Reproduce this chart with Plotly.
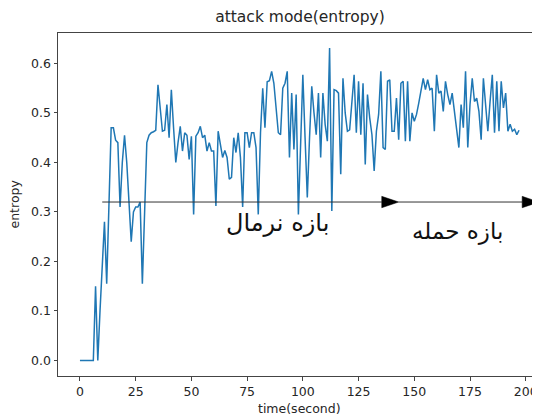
import plotly.graph_objects as go

# entropy per second
entropy = [
    0, 0, 0, 0, 0, 0, 0, 0.15, 0, 0.10,
    0.19, 0.28, 0.155, 0.32, 0.47, 0.47, 0.445, 0.44, 0.31, 0.40,
    0.455, 0.40, 0.33, 0.24, 0.30, 0.31, 0.31, 0.32, 0.155, 0.30,
    0.44, 0.455, 0.46, 0.462, 0.465, 0.557, 0.51, 0.463, 0.465, 0.517,
    0.45, 0.547, 0.47, 0.40, 0.44, 0.473, 0.423, 0.46, 0.455, 0.406,
    0.453, 0.295, 0.453, 0.46, 0.473, 0.45, 0.455, 0.423, 0.44, 0.423,
    0.423, 0.312, 0.463, 0.44, 0.41, 0.424, 0.41, 0.366, 0.37, 0.45,
    0.42, 0.46, 0.41, 0.31, 0.46, 0.46, 0.43, 0.46, 0.46, 0.43,
    0.295, 0.46, 0.55, 0.47, 0.563, 0.565, 0.584, 0.56, 0.507, 0.46,
    0.456, 0.55, 0.56, 0.584, 0.41, 0.54, 0.426, 0.537, 0.295, 0.44,
    0.577, 0.45, 0.329, 0.45, 0.554, 0.50, 0.456, 0.54, 0.41, 0.54,
    0.477, 0.443, 0.631, 0.302, 0.547, 0.545, 0.54, 0.376, 0.57, 0.50,
    0.463, 0.466, 0.53, 0.577, 0.46, 0.564, 0.456, 0.56, 0.396, 0.537,
    0.49, 0.456, 0.383, 0.463, 0.497, 0.584, 0.43, 0.426, 0.564, 0.567,
    0.463, 0.463, 0.53, 0.446, 0.56, 0.564, 0.443, 0.564, 0.443, 0.50,
    0.483, 0.497, 0.52, 0.55, 0.57, 0.547, 0.567, 0.547, 0.55, 0.463,
    0.577, 0.54, 0.544, 0.503, 0.564, 0.537, 0.517, 0.54, 0.503, 0.477,
    0.43, 0.517, 0.47, 0.584, 0.43, 0.517, 0.57, 0.523, 0.53, 0.503,
    0.446, 0.57, 0.517, 0.463, 0.523, 0.577, 0.46, 0.564, 0.463, 0.564,
    0.51, 0.54, 0.463, 0.477, 0.463, 0.467, 0.456, 0.465,
]
time_s = list(range(len(entropy)))

x_ticks = [0, 25, 50, 75, 100, 125, 150, 175, 200]
y_ticks = [0.0, 0.1, 0.2, 0.3, 0.4, 0.5, 0.6]

# annotation arrows: (start, tip) along the same level
arrow_level = 0.32
arrow_spans = [(10, 143), (143, 206)]
arrow_head_len = 7.6
arrow_head_half = 0.0115

labels = ["بازه نرمال", "بازه حمله"]
label_x = [88.6, 169.5]
label_y = [0.278, 0.26]
label_size = [24, 23]

# the page body adds an 8px offset, so the figure is 8px smaller than the window
W, H = 532, 408
ML, MT, MB, MR = 50, 25, 40, 0
PW, PH = W - ML - MR, H - MT - MB

TXT = "#262626"

fig = go.Figure()
fig.add_trace(go.Scatter(
    x=time_s, y=entropy, mode="lines",
    line=dict(color="#1f77b4", width=1.5),
    showlegend=False, hoverinfo="skip",
))

shapes = []
for (x0, x1) in arrow_spans:
    shapes.append(dict(type="line", xref="x", yref="y",
                       x0=x0, x1=x1 - arrow_head_len, y0=arrow_level, y1=arrow_level,
                       line=dict(color="#333333", width=1)))
    hb = x1 - arrow_head_len
    path = (f"M {hb},{arrow_level + arrow_head_half} L {x1},{arrow_level} "
            f"L {hb},{arrow_level - arrow_head_half} Z")
    shapes.append(dict(type="path", xref="x", yref="y", path=path,
                       fillcolor="black", line=dict(color="black", width=0.5)))

annotations = []
for t, xx, yy, sz in zip(labels, label_x, label_y, label_size):
    annotations.append(dict(text=t, x=xx, y=yy, xref="x", yref="y",
                            showarrow=False,
                            font=dict(family="DejaVu Sans", size=sz, color="#111111")))

# axis titles placed at fixed pixel positions
annotations.append(dict(text="entropy", x=(6 - ML) / PW, y=0.5,
                        xref="paper", yref="paper",
                        showarrow=False, textangle=-90, xanchor="center", yanchor="middle",
                        font=dict(family="DejaVu Sans", size=12.5, color=TXT)))
annotations.append(dict(text="time(second)", x=0.5, y=-(400 - (H - MB)) / PH,
                        xref="paper", yref="paper",
                        showarrow=False, xanchor="center", yanchor="middle",
                        font=dict(family="DejaVu Sans", size=12.5, color=TXT)))

fig.update_layout(
    width=W, height=H,
    margin=dict(l=ML, r=MR, t=MT, b=MB, autoexpand=False),
    paper_bgcolor="white", plot_bgcolor="white",
    font=dict(family="DejaVu Sans", size=12, color=TXT),
    title=dict(text="attack mode(entropy)", x=292 / W, xanchor="center",
               y=1 - 9 / H, yanchor="middle",
               font=dict(family="DejaVu Sans", size=15.5, color=TXT)),
    shapes=shapes,
    annotations=annotations,
    xaxis=dict(range=[-9.85, 206.4], tickvals=x_ticks, automargin=False,
               showgrid=False, zeroline=False,
               showline=True, linecolor="#444444", linewidth=1, mirror=True,
               ticks="outside", ticklen=3.5, tickcolor="#444444",
               tickfont=dict(size=12.5)),
    yaxis=dict(range=[-0.0315, 0.6615], tickvals=y_ticks, tickformat=".1f",
               automargin=False,
               showgrid=False, zeroline=False,
               showline=True, linecolor="#444444", linewidth=1, mirror=False,
               ticks="outside", ticklen=3.5, tickcolor="#444444",
               tickfont=dict(size=12.5)),
)

fig.write_html("out.html")
